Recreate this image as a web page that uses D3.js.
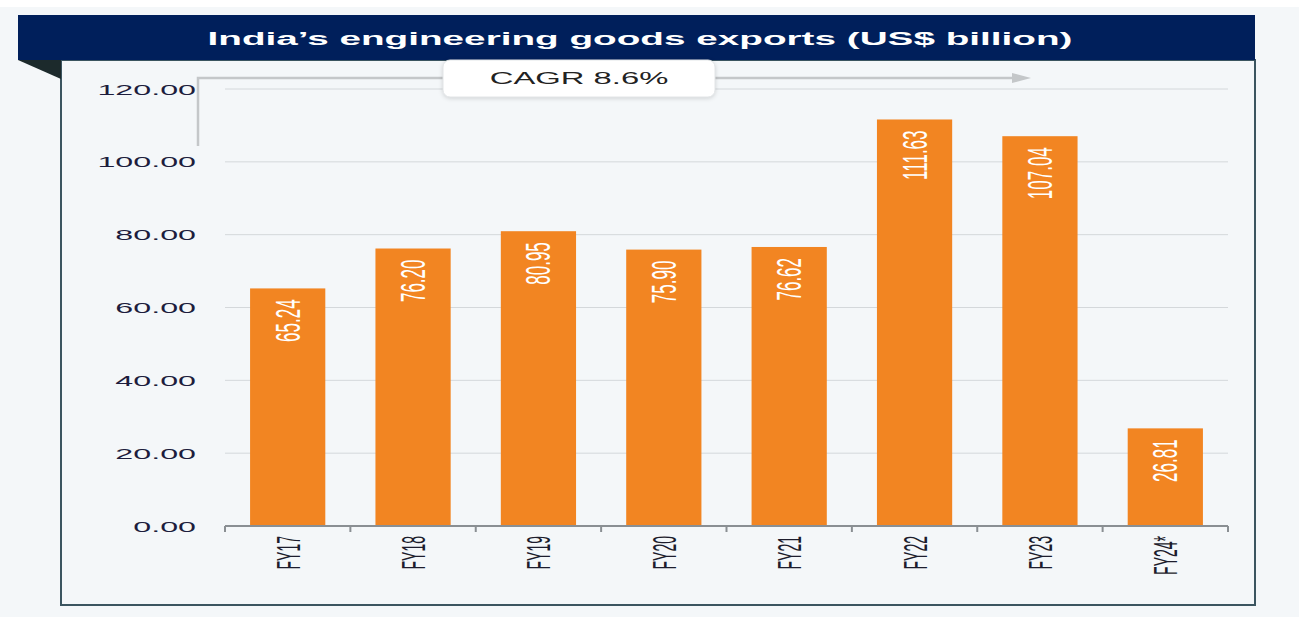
<!DOCTYPE html>
<html><head><meta charset="utf-8">
<script src="https://cdn.jsdelivr.net/npm/d3@7"></script>
<style>body{margin:0;background:#fff}svg{display:block}</style>
</head><body><svg id="c" width="1299" height="617"></svg>
<script>
const categories = ["FY17","FY18","FY19","FY20","FY21","FY22","FY23","FY24*"];
const values = [65.24,76.20,80.95,75.90,76.62,111.63,107.04,26.81];
const yTicks = [0,20,40,60,80,100,120];
const title = "India’s engineering goods exports (US$ billion)";
const cagrLabel = "CAGR 8.6%";

const FONT = "Liberation Sans, Arial, sans-serif";
const SX = 2.15; // horizontal stretch seen in the reference
const svg = d3.select("#c");
svg.append("rect").attr("x",0).attr("y",7).attr("width",1299).attr("height",610).attr("fill","#f4f7f9");
// panel
svg.append("rect").attr("x",61).attr("y",60).attr("width",1194).attr("height",545).attr("fill","#f4f7f9")
  .attr("stroke","#3b5560").attr("stroke-width",2);
// title banner
svg.append("rect").attr("x",18).attr("y",15).attr("width",1237).attr("height",45).attr("fill","#001f5b");
svg.append("path").attr("d","M18,60 L61,60 L61,79 Z").attr("fill","#1c2a2c");
svg.append("text").attr("transform",`translate(640,45) scale(${SX},1)`).attr("text-anchor","middle").attr("fill","#fff")
  .attr("font-family",FONT).attr("font-weight","bold").attr("font-size",18).text(title);

const x = d3.scaleBand().domain(categories).range([225,1228]).paddingInner(0.4).paddingOuter(0.2);
const y = d3.scaleLinear().domain([0,120]).range([526,89]);

// grid
svg.append("g").selectAll("line").data(yTicks.filter(d=>d>0)).join("line")
  .attr("x1",225).attr("x2",1228).attr("y1",d=>y(d)).attr("y2",d=>y(d)).attr("stroke","#d4d8db").attr("stroke-width",1);

// y labels
svg.append("g").selectAll("text").data(yTicks).join("text")
  .attr("transform",d=>`translate(196,${y(d)+5.5}) scale(${SX},1)`).attr("text-anchor","end").attr("fill","#1d1d3d")
  .attr("font-family",FONT).attr("font-size",15).text(d=>d.toFixed(2));

// bars
svg.append("g").selectAll("rect").data(values).join("rect")
  .attr("x",(d,i)=>x(categories[i])).attr("width",x.bandwidth())
  .attr("y",d=>y(d)).attr("height",d=>y(0)-y(d)).attr("fill","#f28522");

// value labels
svg.append("g").selectAll("text").data(values).join("text")
  .attr("transform",(d,i)=>`translate(${x(categories[i])+x.bandwidth()/2+12},${y(d)+11}) scale(${SX*0.95},1) rotate(-90)`)
  .attr("text-anchor","end").attr("fill","#fff")
  .attr("font-family",FONT).attr("font-size",17)
  .text(d=>d.toFixed(2));

// x axis
const xAxis = d3.axisBottom(x).tickSize(0).tickFormat("");
const gx = svg.append("g").attr("transform","translate(0,526)").call(xAxis);
gx.select(".domain").attr("stroke","#8a8f93").attr("stroke-width",2).attr("d","M225,0H1228");
const bounds = d3.range(categories.length+1).map(i=>225+(1228-225)*i/categories.length);
svg.append("g").selectAll("line").data(bounds).join("line")
  .attr("x1",d=>d).attr("x2",d=>d).attr("y1",526).attr("y2",532).attr("stroke","#8a8f93").attr("stroke-width",2);
svg.append("g").selectAll("text").data(categories).join("text")
  .attr("transform",d=>`translate(${x(d)+x.bandwidth()/2+12},536) scale(2.4,1) rotate(-90)`)
  .attr("text-anchor","end").attr("fill","#1d1d2d")
  .attr("font-family",FONT).attr("font-size",14).text(d=>d);

// CAGR arrow
svg.append("path").attr("d","M198,146 V78 H1015").attr("fill","none").attr("stroke","#c4c7c9").attr("stroke-width",2.5);
svg.append("path").attr("d","M1012,73 L1031,78 L1012,83 Z").attr("fill","#c4c7c9");
const bx = 443, bw = 272;
svg.append("rect").attr("x",bx).attr("y",60).attr("width",bw).attr("height",37).attr("rx",7)
  .attr("fill","#fff").attr("stroke","#e2e5e7").style("filter","drop-shadow(0 1px 2px rgba(0,0,0,0.15))");
svg.append("text").attr("transform",`translate(${bx+bw/2},84) scale(2.05,1)`).attr("text-anchor","middle").attr("fill","#222")
  .attr("font-family",FONT).attr("font-size",16).text(cagrLabel);
</script></body></html>
